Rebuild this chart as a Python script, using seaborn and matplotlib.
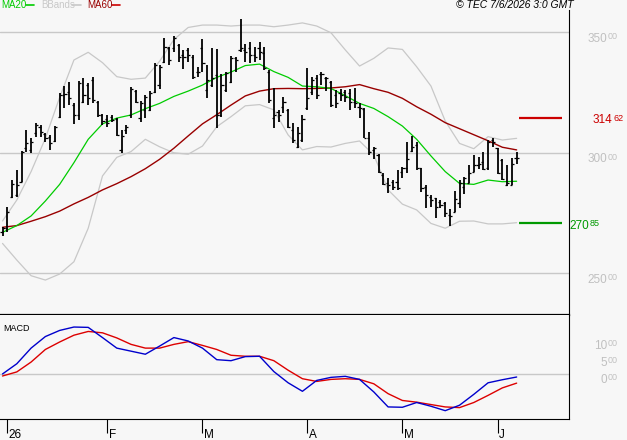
import numpy as np
import matplotlib
matplotlib.use('Agg')
import matplotlib.pyplot as plt
from matplotlib.lines import Line2D
import seaborn as sns

sns.set_theme(style='white')
plt.rcParams['font.family'] = ['Liberation Sans', 'DejaVu Sans']

# ---- data (trading-day index, 0 = 2 Jan 2026) ----
days = list(range(-1, 108))
opens = [267.3, 268.7, 281.8, 282.5, 288.0, 301.9, 301.2, 308.1, 310.9, 307.7,
         306.7, 304.9, 315.0, 324.0, 325.4, 319.8, 315.7, 320.9, 328.1, 330.2,
         321.2, 315.7, 314.0, 315.0, 314.0, 301.2, 309.5, 315.7, 325.6, 314.3,
         317.8, 317.8, 325.4, 328.1, 337.8, 343.4, 343.4, 344.7, 340.6, 342.7,
         339.9, 333.7, 343.4, 326.1, 328.1, 332.3, 315.7, 326.1, 329.5, 339.2,
         342.7, 342.7, 343.4, 340.6, 343.4, 341.3, 333.7, 314.3, 317.1, 319.1,
         317.8, 309.5, 302.6, 305.3, 318.5, 325.4, 330.9, 332.6, 330.9, 329.5,
         324.0, 324.7, 325.4, 324.7, 320.9, 319.1, 318.2, 306.0, 301.2, 299.1,
         290.8, 287.3, 288.0, 288.0, 292.2, 293.6, 300.8, 303.2, 293.6, 286.0,
         281.8, 281.1, 279.7, 279.0, 274.2, 275.6, 279.0, 286.0, 287.3, 292.2,
         295.0, 296.3, 293.6, 305.3, 301.9, 297.0, 286.6, 286.6, 297.7]
highs = [269.1, 277.6, 288.7, 292.9, 300.8, 309.5, 306.0, 312.5, 311.5, 308.1,
         307.4, 311.1, 324.7, 327.7, 329.5, 320.5, 329.8, 330.9, 328.8, 331.6,
         321.5, 316.0, 315.7, 315.7, 314.3, 309.5, 311.5, 327.4, 326.1, 321.5,
         324.0, 325.6, 337.1, 336.4, 347.8, 344.0, 348.6, 345.0, 342.7, 343.6,
         340.6, 335.7, 347.2, 336.4, 343.4, 343.1, 332.6, 333.7, 340.3, 339.9,
         355.5, 345.0, 346.1, 344.0, 346.1, 344.0, 334.4, 327.0, 317.8, 323.3,
         318.0, 312.2, 310.9, 315.7, 335.0, 331.6, 332.3, 333.7, 331.6, 329.8,
         326.1, 326.5, 326.1, 326.5, 326.8, 320.5, 318.5, 308.8, 302.6, 299.4,
         291.5, 289.4, 288.7, 292.9, 294.2, 304.3, 307.1, 304.6, 293.8, 286.6,
         282.5, 281.4, 280.4, 279.5, 276.7, 284.2, 288.7, 290.1, 295.0, 299.1,
         298.4, 300.5, 305.3, 306.3, 302.1, 297.4, 295.0, 297.7, 300.5]
lows = [265.6, 267.0, 281.4, 281.8, 287.8, 300.5, 299.8, 306.7, 306.7, 304.6,
        301.2, 304.6, 314.3, 318.5, 319.8, 311.8, 313.6, 320.5, 319.8, 320.5,
        315.0, 311.5, 310.9, 312.9, 307.0, 300.1, 307.7, 314.6, 320.5, 312.6,
        314.3, 317.4, 324.7, 326.5, 337.1, 336.4, 342.0, 337.8, 334.8, 337.8,
        330.6, 331.6, 333.4, 322.6, 327.4, 310.2, 315.0, 325.4, 328.8, 333.7,
        342.0, 337.8, 337.1, 337.8, 338.5, 334.4, 320.5, 310.2, 312.6, 316.4,
        310.2, 303.9, 302.1, 304.6, 317.8, 324.0, 322.3, 328.1, 325.6, 319.1,
        318.5, 321.5, 321.2, 317.8, 318.7, 314.3, 306.0, 299.1, 297.4, 291.5,
        286.6, 283.2, 284.6, 284.6, 289.7, 291.5, 300.2, 292.9, 283.9, 277.2,
        277.7, 273.1, 277.2, 273.5, 269.8, 275.3, 277.2, 282.8, 287.3, 292.2,
        293.3, 292.9, 292.9, 302.6, 291.1, 288.7, 286.4, 286.6, 295.2]
closes = [268.7, 275.6, 286.9, 286.6, 300.5, 303.9, 304.6, 311.5, 308.8, 306.0,
          303.9, 310.9, 324.0, 324.3, 322.6, 315.7, 328.8, 324.0, 322.6, 321.9,
          315.7, 313.2, 312.2, 313.6, 307.4, 307.0, 310.9, 326.5, 321.2, 320.5,
          323.3, 324.7, 336.4, 335.7, 344.0, 338.5, 347.5, 339.9, 339.9, 340.6,
          331.6, 333.4, 337.1, 330.2, 330.9, 315.7, 328.1, 333.0, 339.2, 338.5,
          343.4, 342.0, 340.6, 339.9, 342.0, 335.1, 321.9, 315.7, 315.7, 320.9,
          310.9, 305.3, 308.1, 314.0, 322.6, 330.2, 324.0, 332.6, 330.9, 319.8,
          320.5, 324.0, 323.3, 321.2, 320.5, 318.5, 306.3, 300.5, 301.9, 292.2,
          286.9, 286.6, 286.0, 285.5, 293.8, 297.4, 302.6, 293.6, 285.3, 282.5,
          280.4, 277.7, 278.3, 274.9, 273.8, 281.0, 287.3, 289.4, 291.5, 295.0,
          295.2, 293.3, 304.6, 304.3, 291.5, 289.1, 287.3, 295.2, 298.0]

# indicator lines, read every third session
line_days = [-1, 2, 5, 8, 11, 14, 17, 20, 23, 26, 29, 32, 35, 38, 41, 44, 47, 50, 53,
             56, 59, 62, 65, 68, 71, 74, 77, 80, 83, 86, 89, 92, 95, 98, 101, 104, 107]
ma20 = [267.0, 269.8, 273.8, 280.0, 286.9, 295.9, 305.6, 312.0, 314.4, 315.7, 318.3,
        320.5, 323.4, 325.6, 328.1, 331.3, 333.5, 336.2, 336.8, 333.7, 331.3, 327.7,
        327.4, 326.7, 323.7, 320.5, 318.4, 315.0, 311.1, 305.6, 298.7, 292.2, 287.3,
        286.9, 288.7, 288.0, 288.2]
ma60 = [269.1, 269.8, 271.6, 273.5, 275.8, 278.8, 281.5, 284.6, 287.2, 290.1, 293.4,
        297.3, 301.9, 307.0, 312.0, 315.8, 319.8, 323.6, 325.6, 326.6, 326.7, 326.6,
        326.7, 326.9, 327.4, 328.3, 326.6, 325.1, 322.6, 319.1, 316.0, 312.5, 310.0,
        307.5, 305.0, 302.3, 301.2]
bb_upper = [271.7, 280.4, 292.2, 306.0, 323.0, 338.5, 341.7, 337.4, 331.6, 330.5, 331.0,
            338.0, 347.0, 352.0, 353.0, 353.0, 352.6, 353.0, 353.0, 352.3, 353.0, 353.9,
            352.6, 349.8, 342.7, 336.0, 339.2, 343.5, 342.9, 335.7, 327.7, 313.2, 303.9,
            301.7, 306.7, 305.3, 306.0]
bb_lower = [262.4, 255.5, 249.0, 247.2, 249.7, 254.8, 268.7, 290.4, 298.1, 300.5, 305.6,
            302.5, 300.0, 299.4, 302.8, 310.8, 315.0, 319.5, 320.0, 317.8, 307.4, 301.2,
            302.6, 302.4, 303.9, 304.9, 299.1, 284.6, 278.7, 276.3, 270.7, 268.7, 271.6,
            271.7, 270.5, 270.5, 271.0]
macd = [0.1, 3.1, 7.7, 11.1, 12.9, 13.9, 13.8, 10.8, 7.7, 6.8, 5.9, 8.3, 10.8, 9.8,
        7.7, 4.3, 4.0, 5.2, 5.3, 0.8, -2.5, -5.0, -1.8, -0.9, -0.6, -1.5, -5.2, -9.6,
        -9.7, -8.3, -9.4, -10.7, -9.1, -5.9, -2.5, -1.6, -0.8]
signal = [-0.5, 0.7, 3.6, 7.3, 9.5, 11.5, 12.6, 12.2, 10.7, 8.8, 7.7, 7.7, 8.8, 9.6,
          8.5, 7.3, 5.6, 5.3, 5.3, 4.0, 1.2, -1.3, -2.1, -1.5, -1.3, -1.5, -2.8, -5.7,
          -7.7, -8.2, -8.9, -9.6, -9.8, -8.3, -6.2, -4.0, -2.6]

resistance = 314.62
support = 270.85
price_ticks = [250, 300, 350]
macd_ticks = [0, 5, 10]
month_days = [0, 21, 41, 63, 83, 103]
month_labels = ['26', 'F', 'M', 'A', 'M', 'J']

BG = '#f7f7f7'
GRID = '#c8c8c8'
W, H = 627, 440


def box(x0, y0, x1, y1):
    # pixel box -> figure fraction
    return [x0 / W, 1 - y1 / H, (x1 - x0) / W, (y1 - y0) / H]


fig = plt.figure(figsize=(W / 100, H / 100), dpi=100, facecolor=BG)
ax = fig.add_axes(box(0, 10, 569, 315))
axm = fig.add_axes(box(0, 315, 569, 419), sharex=ax)
for a in (ax, axm):
    a.set_facecolor(BG)
    a.spines['top'].set_visible(False)
    a.spines['left'].set_visible(False)
    a.spines['right'].set_color('black')
    a.spines['right'].set_linewidth(0.8)
    a.spines['bottom'].set_color('black')
ax.spines['bottom'].set_linewidth(1.6)
axm.spines['bottom'].set_linewidth(0.8)

# ---- price panel ----
ax.set_yticks(price_ticks)
ax.yaxis.grid(True, color=GRID, lw=1.0)
ax.set_axisbelow(True)

sns.lineplot(x=line_days, y=bb_upper, ax=ax, color='#c8c8c8', lw=0.9, sort=False, legend=False)
sns.lineplot(x=line_days, y=bb_lower, ax=ax, color='#c8c8c8', lw=0.9, sort=False, legend=False)
sns.lineplot(x=line_days, y=ma60, ax=ax, color='#990000', lw=1.0, sort=False, legend=False)
sns.lineplot(x=line_days, y=ma20, ax=ax, color='#00cc00', lw=0.9, sort=False, legend=False)

d = np.array(days, dtype=float)
ax.vlines(d, lows, highs, color='black', lw=1.3)
ax.hlines(opens, d - 0.45, d, color='black', lw=0.9)
ax.hlines(closes, d, d + 0.45, color='black', lw=0.9)

last = days[-1]
ax.hlines(resistance, last + 0.5, last + 9.5, color='#cc0000', lw=1.6)
ax.hlines(support, last + 0.5, last + 9.5, color='#009900', lw=1.6)

ax.set_xlim(-1.53, 118.0)
ax.set_ylim(232.7, 359.25)
ax.tick_params(axis='both', length=0, labelbottom=False, labelleft=False)


def side_label(a, y, main, sup, color, x_main, dy_main, dy_sup, size=8.5, sup_size=6.5):
    a.annotate(main, xy=(1, y), xycoords=('axes fraction', 'data'),
               xytext=(x_main * 0.72, dy_main * 0.72), textcoords='offset points',
               ha='right', va='baseline', color=color, fontsize=size, annotation_clip=False)
    a.annotate(sup, xy=(1, y), xycoords=('axes fraction', 'data'),
               xytext=((x_main + 1) * 0.72, dy_sup * 0.72), textcoords='offset points',
               ha='left', va='baseline', color=color, fontsize=sup_size, annotation_clip=False)


for p in price_ticks:
    side_label(ax, p, f'{p}', '00', '#c0c0c0', 38, -9.4, -7.0)
whole, frac = f'{resistance:.2f}'.split('.')
side_label(ax, resistance, whole, frac, '#cc0000', 43, -5.3, -3.6)
whole, frac = f'{support:.2f}'.split('.')
side_label(ax, support, whole, frac, '#009900', 20, -6.0, -3.4)

# ---- MACD panel ----
axm.axhline(0, color=GRID, lw=1.0, zorder=0)
sns.lineplot(x=line_days, y=signal, ax=axm, color='#dd0000', lw=1.0, sort=False, legend=False)
sns.lineplot(x=line_days, y=macd, ax=axm, color='#0000cc', lw=1.0, sort=False, legend=False)
axm.set_ylim(-13.15, 17.44)
axm.set_yticks([])
axm.set_ylabel('')
ax.set_ylabel('')
for v in macd_ticks:
    side_label(axm, v, f'{v}', '00', '#c0c0c0', 38, -8.4, -6.2)

axm.set_xticks(month_days)
axm.set_xticklabels([])
axm.tick_params(axis='x', direction='out', length=10, width=0.8, color='black', bottom=True)
for md, lbl in zip(month_days, month_labels):
    axm.annotate(lbl, xy=(md, 0), xycoords=('data', 'axes fraction'),
                 xytext=(1.5 * 0.72, -19 * 0.72), textcoords='offset points',
                 ha='left', va='baseline', fontsize=8.5, color='black', annotation_clip=False)

# ---- header ----
hy = 1 - 5.5 / H
fig.text(1 / W, hy, 'MA20', color='#00cc00', fontsize=7, va='center')
fig.text(41 / W, hy, 'BBands', color='#c8c8c8', fontsize=7, va='center')
fig.text(87 / W, hy, 'MA60', color='#990000', fontsize=7, va='center')
for x0, x1, c in [(26, 34, '#00cc00'), (72, 81, '#c8c8c8'), (112, 120, '#cc0000')]:
    fig.add_artist(Line2D([x0 / W, x1 / W], [1 - 5 / H, 1 - 5 / H], color=c, lw=1.2,
                          transform=fig.transFigure))
fig.text(574 / W, hy, '\u00a9 TEC 7/6/2026 3:0 GMT', color='black', fontsize=7.5,
         style='italic', ha='right', va='center')
fig.text(3 / W, 1 - 331 / H, 'MACD', color='black', fontsize=6.5, va='baseline')

fig.savefig('out.png', dpi=100, facecolor=BG)
